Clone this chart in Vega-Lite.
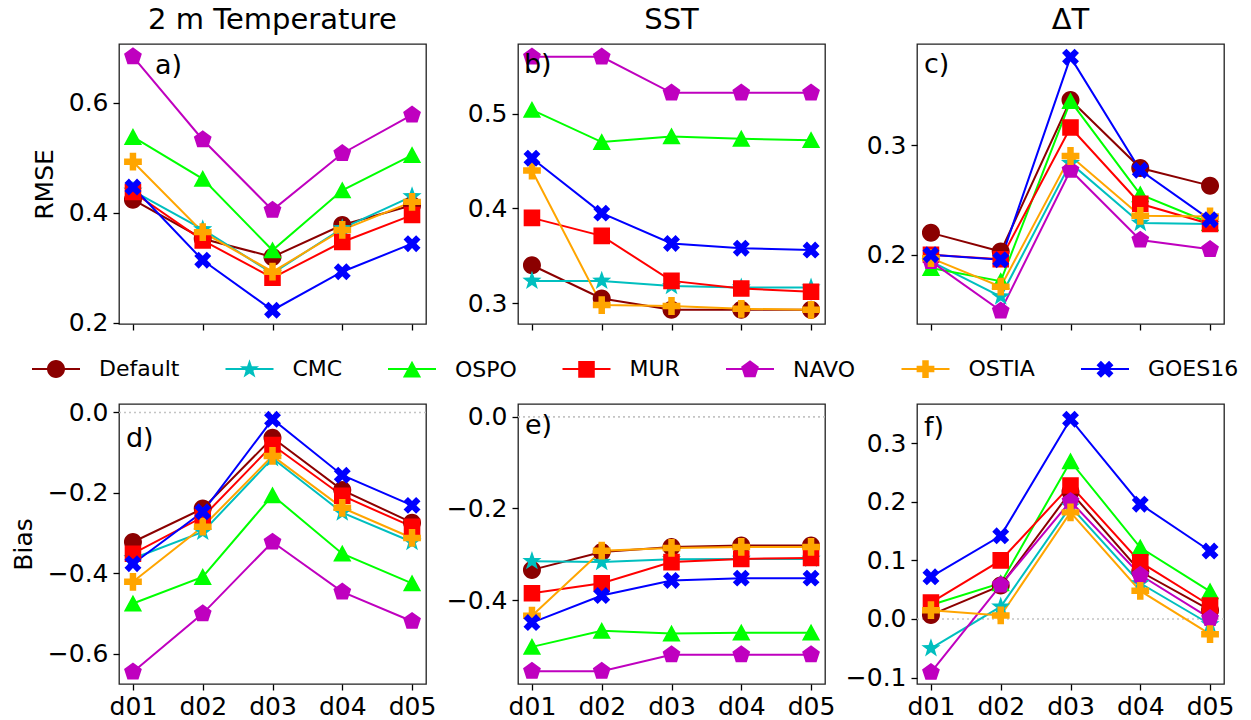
{
  "$schema": "https://vega.github.io/schema/vega-lite/v6.json",
  "background": "white",
  "padding": {"left": 10, "top": 5, "right": 5, "bottom": 0},
  "datasets": {
    "rows": [
      {"var": "T2", "metric": "RMSE", "series": "Default", "lead": "d01", "value": 0.424},
      {"var": "T2", "metric": "RMSE", "series": "Default", "lead": "d02", "value": 0.353},
      {"var": "T2", "metric": "RMSE", "series": "Default", "lead": "d03", "value": 0.320},
      {"var": "T2", "metric": "RMSE", "series": "Default", "lead": "d04", "value": 0.378},
      {"var": "T2", "metric": "RMSE", "series": "Default", "lead": "d05", "value": 0.414},
      {"var": "T2", "metric": "RMSE", "series": "CMC", "lead": "d01", "value": 0.440},
      {"var": "T2", "metric": "RMSE", "series": "CMC", "lead": "d02", "value": 0.370},
      {"var": "T2", "metric": "RMSE", "series": "CMC", "lead": "d03", "value": 0.290},
      {"var": "T2", "metric": "RMSE", "series": "CMC", "lead": "d04", "value": 0.372},
      {"var": "T2", "metric": "RMSE", "series": "CMC", "lead": "d05", "value": 0.430},
      {"var": "T2", "metric": "RMSE", "series": "OSPO", "lead": "d01", "value": 0.538},
      {"var": "T2", "metric": "RMSE", "series": "OSPO", "lead": "d02", "value": 0.462},
      {"var": "T2", "metric": "RMSE", "series": "OSPO", "lead": "d03", "value": 0.332},
      {"var": "T2", "metric": "RMSE", "series": "OSPO", "lead": "d04", "value": 0.441},
      {"var": "T2", "metric": "RMSE", "series": "OSPO", "lead": "d05", "value": 0.505},
      {"var": "T2", "metric": "RMSE", "series": "MUR", "lead": "d01", "value": 0.438},
      {"var": "T2", "metric": "RMSE", "series": "MUR", "lead": "d02", "value": 0.350},
      {"var": "T2", "metric": "RMSE", "series": "MUR", "lead": "d03", "value": 0.282},
      {"var": "T2", "metric": "RMSE", "series": "MUR", "lead": "d04", "value": 0.347},
      {"var": "T2", "metric": "RMSE", "series": "MUR", "lead": "d05", "value": 0.396},
      {"var": "T2", "metric": "RMSE", "series": "NAVO", "lead": "d01", "value": 0.684},
      {"var": "T2", "metric": "RMSE", "series": "NAVO", "lead": "d02", "value": 0.533},
      {"var": "T2", "metric": "RMSE", "series": "NAVO", "lead": "d03", "value": 0.405},
      {"var": "T2", "metric": "RMSE", "series": "NAVO", "lead": "d04", "value": 0.508},
      {"var": "T2", "metric": "RMSE", "series": "NAVO", "lead": "d05", "value": 0.578},
      {"var": "T2", "metric": "RMSE", "series": "OSTIA", "lead": "d01", "value": 0.493},
      {"var": "T2", "metric": "RMSE", "series": "OSTIA", "lead": "d02", "value": 0.365},
      {"var": "T2", "metric": "RMSE", "series": "OSTIA", "lead": "d03", "value": 0.293},
      {"var": "T2", "metric": "RMSE", "series": "OSTIA", "lead": "d04", "value": 0.369},
      {"var": "T2", "metric": "RMSE", "series": "OSTIA", "lead": "d05", "value": 0.420},
      {"var": "T2", "metric": "RMSE", "series": "GOES16", "lead": "d01", "value": 0.447},
      {"var": "T2", "metric": "RMSE", "series": "GOES16", "lead": "d02", "value": 0.314},
      {"var": "T2", "metric": "RMSE", "series": "GOES16", "lead": "d03", "value": 0.223},
      {"var": "T2", "metric": "RMSE", "series": "GOES16", "lead": "d04", "value": 0.293},
      {"var": "T2", "metric": "RMSE", "series": "GOES16", "lead": "d05", "value": 0.344},

      {"var": "SST", "metric": "RMSE", "series": "Default", "lead": "d01", "value": 0.340},
      {"var": "SST", "metric": "RMSE", "series": "Default", "lead": "d02", "value": 0.305},
      {"var": "SST", "metric": "RMSE", "series": "Default", "lead": "d03", "value": 0.293},
      {"var": "SST", "metric": "RMSE", "series": "Default", "lead": "d04", "value": 0.293},
      {"var": "SST", "metric": "RMSE", "series": "Default", "lead": "d05", "value": 0.293},
      {"var": "SST", "metric": "RMSE", "series": "CMC", "lead": "d01", "value": 0.3235},
      {"var": "SST", "metric": "RMSE", "series": "CMC", "lead": "d02", "value": 0.3235},
      {"var": "SST", "metric": "RMSE", "series": "CMC", "lead": "d03", "value": 0.318},
      {"var": "SST", "metric": "RMSE", "series": "CMC", "lead": "d04", "value": 0.3165},
      {"var": "SST", "metric": "RMSE", "series": "CMC", "lead": "d05", "value": 0.3165},
      {"var": "SST", "metric": "RMSE", "series": "OSPO", "lead": "d01", "value": 0.504},
      {"var": "SST", "metric": "RMSE", "series": "OSPO", "lead": "d02", "value": 0.470},
      {"var": "SST", "metric": "RMSE", "series": "OSPO", "lead": "d03", "value": 0.476},
      {"var": "SST", "metric": "RMSE", "series": "OSPO", "lead": "d04", "value": 0.4735},
      {"var": "SST", "metric": "RMSE", "series": "OSPO", "lead": "d05", "value": 0.472},
      {"var": "SST", "metric": "RMSE", "series": "MUR", "lead": "d01", "value": 0.390},
      {"var": "SST", "metric": "RMSE", "series": "MUR", "lead": "d02", "value": 0.371},
      {"var": "SST", "metric": "RMSE", "series": "MUR", "lead": "d03", "value": 0.3235},
      {"var": "SST", "metric": "RMSE", "series": "MUR", "lead": "d04", "value": 0.3155},
      {"var": "SST", "metric": "RMSE", "series": "MUR", "lead": "d05", "value": 0.312},
      {"var": "SST", "metric": "RMSE", "series": "NAVO", "lead": "d01", "value": 0.560},
      {"var": "SST", "metric": "RMSE", "series": "NAVO", "lead": "d02", "value": 0.560},
      {"var": "SST", "metric": "RMSE", "series": "NAVO", "lead": "d03", "value": 0.522},
      {"var": "SST", "metric": "RMSE", "series": "NAVO", "lead": "d04", "value": 0.522},
      {"var": "SST", "metric": "RMSE", "series": "NAVO", "lead": "d05", "value": 0.522},
      {"var": "SST", "metric": "RMSE", "series": "OSTIA", "lead": "d01", "value": 0.440},
      {"var": "SST", "metric": "RMSE", "series": "OSTIA", "lead": "d02", "value": 0.298},
      {"var": "SST", "metric": "RMSE", "series": "OSTIA", "lead": "d03", "value": 0.297},
      {"var": "SST", "metric": "RMSE", "series": "OSTIA", "lead": "d04", "value": 0.294},
      {"var": "SST", "metric": "RMSE", "series": "OSTIA", "lead": "d05", "value": 0.293},
      {"var": "SST", "metric": "RMSE", "series": "GOES16", "lead": "d01", "value": 0.453},
      {"var": "SST", "metric": "RMSE", "series": "GOES16", "lead": "d02", "value": 0.395},
      {"var": "SST", "metric": "RMSE", "series": "GOES16", "lead": "d03", "value": 0.363},
      {"var": "SST", "metric": "RMSE", "series": "GOES16", "lead": "d04", "value": 0.358},
      {"var": "SST", "metric": "RMSE", "series": "GOES16", "lead": "d05", "value": 0.356},

      {"var": "DT", "metric": "RMSE", "series": "Default", "lead": "d01", "value": 0.220},
      {"var": "DT", "metric": "RMSE", "series": "Default", "lead": "d02", "value": 0.203},
      {"var": "DT", "metric": "RMSE", "series": "Default", "lead": "d03", "value": 0.341},
      {"var": "DT", "metric": "RMSE", "series": "Default", "lead": "d04", "value": 0.279},
      {"var": "DT", "metric": "RMSE", "series": "Default", "lead": "d05", "value": 0.263},
      {"var": "DT", "metric": "RMSE", "series": "CMC", "lead": "d01", "value": 0.194},
      {"var": "DT", "metric": "RMSE", "series": "CMC", "lead": "d02", "value": 0.162},
      {"var": "DT", "metric": "RMSE", "series": "CMC", "lead": "d03", "value": 0.2835},
      {"var": "DT", "metric": "RMSE", "series": "CMC", "lead": "d04", "value": 0.229},
      {"var": "DT", "metric": "RMSE", "series": "CMC", "lead": "d05", "value": 0.228},
      {"var": "DT", "metric": "RMSE", "series": "OSPO", "lead": "d01", "value": 0.188},
      {"var": "DT", "metric": "RMSE", "series": "OSPO", "lead": "d02", "value": 0.176},
      {"var": "DT", "metric": "RMSE", "series": "OSPO", "lead": "d03", "value": 0.340},
      {"var": "DT", "metric": "RMSE", "series": "OSPO", "lead": "d04", "value": 0.255},
      {"var": "DT", "metric": "RMSE", "series": "OSPO", "lead": "d05", "value": 0.229},
      {"var": "DT", "metric": "RMSE", "series": "MUR", "lead": "d01", "value": 0.200},
      {"var": "DT", "metric": "RMSE", "series": "MUR", "lead": "d02", "value": 0.196},
      {"var": "DT", "metric": "RMSE", "series": "MUR", "lead": "d03", "value": 0.316},
      {"var": "DT", "metric": "RMSE", "series": "MUR", "lead": "d04", "value": 0.2465},
      {"var": "DT", "metric": "RMSE", "series": "MUR", "lead": "d05", "value": 0.228},
      {"var": "DT", "metric": "RMSE", "series": "NAVO", "lead": "d01", "value": 0.194},
      {"var": "DT", "metric": "RMSE", "series": "NAVO", "lead": "d02", "value": 0.149},
      {"var": "DT", "metric": "RMSE", "series": "NAVO", "lead": "d03", "value": 0.277},
      {"var": "DT", "metric": "RMSE", "series": "NAVO", "lead": "d04", "value": 0.2135},
      {"var": "DT", "metric": "RMSE", "series": "NAVO", "lead": "d05", "value": 0.205},
      {"var": "DT", "metric": "RMSE", "series": "OSTIA", "lead": "d01", "value": 0.197},
      {"var": "DT", "metric": "RMSE", "series": "OSTIA", "lead": "d02", "value": 0.171},
      {"var": "DT", "metric": "RMSE", "series": "OSTIA", "lead": "d03", "value": 0.290},
      {"var": "DT", "metric": "RMSE", "series": "OSTIA", "lead": "d04", "value": 0.2355},
      {"var": "DT", "metric": "RMSE", "series": "OSTIA", "lead": "d05", "value": 0.235},
      {"var": "DT", "metric": "RMSE", "series": "GOES16", "lead": "d01", "value": 0.200},
      {"var": "DT", "metric": "RMSE", "series": "GOES16", "lead": "d02", "value": 0.1955},
      {"var": "DT", "metric": "RMSE", "series": "GOES16", "lead": "d03", "value": 0.380},
      {"var": "DT", "metric": "RMSE", "series": "GOES16", "lead": "d04", "value": 0.277},
      {"var": "DT", "metric": "RMSE", "series": "GOES16", "lead": "d05", "value": 0.232},

      {"var": "T2", "metric": "Bias", "series": "Default", "lead": "d01", "value": -0.322},
      {"var": "T2", "metric": "Bias", "series": "Default", "lead": "d02", "value": -0.239},
      {"var": "T2", "metric": "Bias", "series": "Default", "lead": "d03", "value": -0.063},
      {"var": "T2", "metric": "Bias", "series": "Default", "lead": "d04", "value": -0.193},
      {"var": "T2", "metric": "Bias", "series": "Default", "lead": "d05", "value": -0.274},
      {"var": "T2", "metric": "Bias", "series": "CMC", "lead": "d01", "value": -0.363},
      {"var": "T2", "metric": "Bias", "series": "CMC", "lead": "d02", "value": -0.297},
      {"var": "T2", "metric": "Bias", "series": "CMC", "lead": "d03", "value": -0.114},
      {"var": "T2", "metric": "Bias", "series": "CMC", "lead": "d04", "value": -0.249},
      {"var": "T2", "metric": "Bias", "series": "CMC", "lead": "d05", "value": -0.322},
      {"var": "T2", "metric": "Bias", "series": "OSPO", "lead": "d01", "value": -0.475},
      {"var": "T2", "metric": "Bias", "series": "OSPO", "lead": "d02", "value": -0.409},
      {"var": "T2", "metric": "Bias", "series": "OSPO", "lead": "d03", "value": -0.206},
      {"var": "T2", "metric": "Bias", "series": "OSPO", "lead": "d04", "value": -0.351},
      {"var": "T2", "metric": "Bias", "series": "OSPO", "lead": "d05", "value": -0.425},
      {"var": "T2", "metric": "Bias", "series": "MUR", "lead": "d01", "value": -0.351},
      {"var": "T2", "metric": "Bias", "series": "MUR", "lead": "d02", "value": -0.260},
      {"var": "T2", "metric": "Bias", "series": "MUR", "lead": "d03", "value": -0.081},
      {"var": "T2", "metric": "Bias", "series": "MUR", "lead": "d04", "value": -0.207},
      {"var": "T2", "metric": "Bias", "series": "MUR", "lead": "d05", "value": -0.284},
      {"var": "T2", "metric": "Bias", "series": "NAVO", "lead": "d01", "value": -0.645},
      {"var": "T2", "metric": "Bias", "series": "NAVO", "lead": "d02", "value": -0.500},
      {"var": "T2", "metric": "Bias", "series": "NAVO", "lead": "d03", "value": -0.322},
      {"var": "T2", "metric": "Bias", "series": "NAVO", "lead": "d04", "value": -0.446},
      {"var": "T2", "metric": "Bias", "series": "NAVO", "lead": "d05", "value": -0.519},
      {"var": "T2", "metric": "Bias", "series": "OSTIA", "lead": "d01", "value": -0.421},
      {"var": "T2", "metric": "Bias", "series": "OSTIA", "lead": "d02", "value": -0.284},
      {"var": "T2", "metric": "Bias", "series": "OSTIA", "lead": "d03", "value": -0.108},
      {"var": "T2", "metric": "Bias", "series": "OSTIA", "lead": "d04", "value": -0.237},
      {"var": "T2", "metric": "Bias", "series": "OSTIA", "lead": "d05", "value": -0.312},
      {"var": "T2", "metric": "Bias", "series": "GOES16", "lead": "d01", "value": -0.376},
      {"var": "T2", "metric": "Bias", "series": "GOES16", "lead": "d02", "value": -0.247},
      {"var": "T2", "metric": "Bias", "series": "GOES16", "lead": "d03", "value": -0.017},
      {"var": "T2", "metric": "Bias", "series": "GOES16", "lead": "d04", "value": -0.156},
      {"var": "T2", "metric": "Bias", "series": "GOES16", "lead": "d05", "value": -0.231},

      {"var": "SST", "metric": "Bias", "series": "Default", "lead": "d01", "value": -0.334},
      {"var": "SST", "metric": "Bias", "series": "Default", "lead": "d02", "value": -0.295},
      {"var": "SST", "metric": "Bias", "series": "Default", "lead": "d03", "value": -0.284},
      {"var": "SST", "metric": "Bias", "series": "Default", "lead": "d04", "value": -0.281},
      {"var": "SST", "metric": "Bias", "series": "Default", "lead": "d05", "value": -0.281},
      {"var": "SST", "metric": "Bias", "series": "CMC", "lead": "d01", "value": -0.315},
      {"var": "SST", "metric": "Bias", "series": "CMC", "lead": "d02", "value": -0.317},
      {"var": "SST", "metric": "Bias", "series": "CMC", "lead": "d03", "value": -0.311},
      {"var": "SST", "metric": "Bias", "series": "CMC", "lead": "d04", "value": -0.310},
      {"var": "SST", "metric": "Bias", "series": "CMC", "lead": "d05", "value": -0.310},
      {"var": "SST", "metric": "Bias", "series": "OSPO", "lead": "d01", "value": -0.502},
      {"var": "SST", "metric": "Bias", "series": "OSPO", "lead": "d02", "value": -0.467},
      {"var": "SST", "metric": "Bias", "series": "OSPO", "lead": "d03", "value": -0.473},
      {"var": "SST", "metric": "Bias", "series": "OSPO", "lead": "d04", "value": -0.471},
      {"var": "SST", "metric": "Bias", "series": "OSPO", "lead": "d05", "value": -0.471},
      {"var": "SST", "metric": "Bias", "series": "MUR", "lead": "d01", "value": -0.385},
      {"var": "SST", "metric": "Bias", "series": "MUR", "lead": "d02", "value": -0.363},
      {"var": "SST", "metric": "Bias", "series": "MUR", "lead": "d03", "value": -0.317},
      {"var": "SST", "metric": "Bias", "series": "MUR", "lead": "d04", "value": -0.310},
      {"var": "SST", "metric": "Bias", "series": "MUR", "lead": "d05", "value": -0.308},
      {"var": "SST", "metric": "Bias", "series": "NAVO", "lead": "d01", "value": -0.555},
      {"var": "SST", "metric": "Bias", "series": "NAVO", "lead": "d02", "value": -0.555},
      {"var": "SST", "metric": "Bias", "series": "NAVO", "lead": "d03", "value": -0.519},
      {"var": "SST", "metric": "Bias", "series": "NAVO", "lead": "d04", "value": -0.519},
      {"var": "SST", "metric": "Bias", "series": "NAVO", "lead": "d05", "value": -0.519},
      {"var": "SST", "metric": "Bias", "series": "OSTIA", "lead": "d01", "value": -0.434},
      {"var": "SST", "metric": "Bias", "series": "OSTIA", "lead": "d02", "value": -0.292},
      {"var": "SST", "metric": "Bias", "series": "OSTIA", "lead": "d03", "value": -0.286},
      {"var": "SST", "metric": "Bias", "series": "OSTIA", "lead": "d04", "value": -0.284},
      {"var": "SST", "metric": "Bias", "series": "OSTIA", "lead": "d05", "value": -0.284},
      {"var": "SST", "metric": "Bias", "series": "GOES16", "lead": "d01", "value": -0.449},
      {"var": "SST", "metric": "Bias", "series": "GOES16", "lead": "d02", "value": -0.390},
      {"var": "SST", "metric": "Bias", "series": "GOES16", "lead": "d03", "value": -0.357},
      {"var": "SST", "metric": "Bias", "series": "GOES16", "lead": "d04", "value": -0.352},
      {"var": "SST", "metric": "Bias", "series": "GOES16", "lead": "d05", "value": -0.352},

      {"var": "DT", "metric": "Bias", "series": "Default", "lead": "d01", "value": 0.007},
      {"var": "DT", "metric": "Bias", "series": "Default", "lead": "d02", "value": 0.057},
      {"var": "DT", "metric": "Bias", "series": "Default", "lead": "d03", "value": 0.217},
      {"var": "DT", "metric": "Bias", "series": "Default", "lead": "d04", "value": 0.081},
      {"var": "DT", "metric": "Bias", "series": "Default", "lead": "d05", "value": 0.015},
      {"var": "DT", "metric": "Bias", "series": "CMC", "lead": "d01", "value": -0.050},
      {"var": "DT", "metric": "Bias", "series": "CMC", "lead": "d02", "value": 0.021},
      {"var": "DT", "metric": "Bias", "series": "CMC", "lead": "d03", "value": 0.192},
      {"var": "DT", "metric": "Bias", "series": "CMC", "lead": "d04", "value": 0.061},
      {"var": "DT", "metric": "Bias", "series": "CMC", "lead": "d05", "value": -0.009},
      {"var": "DT", "metric": "Bias", "series": "OSPO", "lead": "d01", "value": 0.024},
      {"var": "DT", "metric": "Bias", "series": "OSPO", "lead": "d02", "value": 0.061},
      {"var": "DT", "metric": "Bias", "series": "OSPO", "lead": "d03", "value": 0.269},
      {"var": "DT", "metric": "Bias", "series": "OSPO", "lead": "d04", "value": 0.122},
      {"var": "DT", "metric": "Bias", "series": "OSPO", "lead": "d05", "value": 0.047},
      {"var": "DT", "metric": "Bias", "series": "MUR", "lead": "d01", "value": 0.028},
      {"var": "DT", "metric": "Bias", "series": "MUR", "lead": "d02", "value": 0.100},
      {"var": "DT", "metric": "Bias", "series": "MUR", "lead": "d03", "value": 0.228},
      {"var": "DT", "metric": "Bias", "series": "MUR", "lead": "d04", "value": 0.097},
      {"var": "DT", "metric": "Bias", "series": "MUR", "lead": "d05", "value": 0.023},
      {"var": "DT", "metric": "Bias", "series": "NAVO", "lead": "d01", "value": -0.091},
      {"var": "DT", "metric": "Bias", "series": "NAVO", "lead": "d02", "value": 0.058},
      {"var": "DT", "metric": "Bias", "series": "NAVO", "lead": "d03", "value": 0.201},
      {"var": "DT", "metric": "Bias", "series": "NAVO", "lead": "d04", "value": 0.075},
      {"var": "DT", "metric": "Bias", "series": "NAVO", "lead": "d05", "value": 0.001},
      {"var": "DT", "metric": "Bias", "series": "OSTIA", "lead": "d01", "value": 0.015},
      {"var": "DT", "metric": "Bias", "series": "OSTIA", "lead": "d02", "value": 0.006},
      {"var": "DT", "metric": "Bias", "series": "OSTIA", "lead": "d03", "value": 0.182},
      {"var": "DT", "metric": "Bias", "series": "OSTIA", "lead": "d04", "value": 0.048},
      {"var": "DT", "metric": "Bias", "series": "OSTIA", "lead": "d05", "value": -0.026},
      {"var": "DT", "metric": "Bias", "series": "GOES16", "lead": "d01", "value": 0.072},
      {"var": "DT", "metric": "Bias", "series": "GOES16", "lead": "d02", "value": 0.142},
      {"var": "DT", "metric": "Bias", "series": "GOES16", "lead": "d03", "value": 0.341},
      {"var": "DT", "metric": "Bias", "series": "GOES16", "lead": "d04", "value": 0.196},
      {"var": "DT", "metric": "Bias", "series": "GOES16", "lead": "d05", "value": 0.116}
    ]
  },
  "data": {"name": "rows"},
  "columns": 3,
  "spacing": {"row": 80, "column": 92},
  "bounds": "flush",
  "concat": [
    {
      "width": 307, "height": 280,
      "title": {"text": "2 m Temperature"},
      "layer": [
        {
          "transform": [{"filter": "datum.var == 'T2' && datum.metric == 'RMSE'"}],
          "mark": {"type": "line", "strokeWidth": 2},
          "encoding": {
            "x": {"field": "lead", "type": "ordinal", "scale": {"type": "point", "padding": 0.2}, "axis": {"labels": false, "title": null}},
            "y": {"field": "value", "type": "quantitative", "scale": {"domain": [0.198, 0.707], "nice": false, "zero": false}, "axis": {"values": [0.2, 0.4, 0.6], "format": ".1f", "title": "RMSE", "titlePadding": 11}},
            "stroke": {"field": "series", "type": "nominal", "sort": null, "scale": {"range": ["#8b0000", "#00bfbf", "#00ff00", "#ff0000", "#bf00bf", "#ffa500", "#0000ff"]}, "legend": {"orient": "none", "legendX": -88, "legendY": 300, "direction": "horizontal", "title": null, "symbolType": "stroke", "symbolSize": 2304, "symbolStrokeWidth": 2, "labelOffset": 18, "columnPadding": 41.5, "labelOpacity": 0, "zindex": 0}}
          }
        },
        {
          "transform": [{"filter": "datum.var == 'T2' && datum.metric == 'RMSE'"}],
          "mark": {"type": "point", "filled": true, "opacity": 1, "size": 2304, "strokeWidth": 0},
          "encoding": {
            "x": {"field": "lead", "type": "ordinal"},
            "y": {"field": "value", "type": "quantitative"},
            "fill": {"field": "series", "type": "nominal", "scale": {"domain": ["Default", "CMC", "OSPO", "MUR", "NAVO", "OSTIA", "GOES16"], "range": ["#8b0000", "#00bfbf", "#00ff00", "#ff0000", "#bf00bf", "#ffa500", "#0000ff"]}, "legend": {"orient": "none", "legendX": -88, "legendY": 300, "direction": "horizontal", "title": null, "symbolSize": 2304, "symbolStrokeWidth": 2, "symbolStrokeColor": "transparent", "labelOffset": 18, "columnPadding": 41.5, "zindex": 1}},
            "shape": {"field": "series", "type": "nominal", "scale": {"domain": ["Default", "CMC", "OSPO", "MUR", "NAVO", "OSTIA", "GOES16"], "range": ["M0.375,0A0.375,0.375,0,1,1,-0.375,0A0.375,0.375,0,1,1,0.375,0ZM-1,0L1,0", "M0,-0.42L0.099,-0.136L0.399,-0.13L0.16,0.052L0.247,0.34L0,0.168L-0.247,0.34L-0.16,0.052L-0.399,-0.13L-0.099,-0.136ZM-1,0L1,0", "M0,-0.37L0.38,0.33L-0.38,0.33ZM-1,0L1,0", "M-0.345,-0.345H0.345V0.345H-0.345ZM-1,0L1,0", "M0,-0.39L0.371,-0.121L0.229,0.316L-0.229,0.316L-0.371,-0.121ZM-1,0L1,0", "M-0.135,-0.37H0.135V-0.135H0.37V0.135H0.135V0.37H-0.135V0.135H-0.37V-0.135H-0.135ZM-1,0L1,0", "M0.17,-0.353L0.353,-0.17L0.183,0L0.353,0.17L0.17,0.353L0,0.183L-0.17,0.353L-0.353,0.17L-0.183,0L-0.353,-0.17L-0.17,-0.353L0,-0.183ZM-1,0L1,0"]}, "legend": {"orient": "none", "legendX": -88, "legendY": 300, "direction": "horizontal", "title": null, "symbolSize": 2304, "symbolStrokeWidth": 2, "symbolStrokeColor": "transparent", "labelOffset": 18, "columnPadding": 41.5, "zindex": 1}}
          }
        },
        {
          "data": {"values": [{"label": "a)"}]},
          "mark": {"type": "text", "align": "left", "baseline": "alphabetic", "fontSize": 27, "dx": 22},
          "encoding": {"x": {"datum": "d01", "type": "ordinal"}, "y": {"datum": 0.652, "type": "quantitative"}, "text": {"field": "label"}}
        }
      ]
    },
    {
      "width": 307, "height": 280,
      "title": {"text": "SST"},
      "layer": [
        {
          "transform": [{"filter": "datum.var == 'SST' && datum.metric == 'RMSE'"}],
          "mark": {"type": "line", "strokeWidth": 2},
          "encoding": {
            "x": {"field": "lead", "type": "ordinal", "scale": {"type": "point", "padding": 0.2}, "axis": {"labels": false, "title": null}},
            "y": {"field": "value", "type": "quantitative", "scale": {"domain": [0.278, 0.5735], "nice": false, "zero": false}, "axis": {"values": [0.3, 0.4, 0.5], "format": ".1f", "title": null}},
            "stroke": {"field": "series", "type": "nominal", "sort": null}
          }
        },
        {
          "transform": [{"filter": "datum.var == 'SST' && datum.metric == 'RMSE'"}],
          "mark": {"type": "point", "filled": true, "opacity": 1, "size": 2304, "strokeWidth": 0},
          "encoding": {
            "x": {"field": "lead", "type": "ordinal"},
            "y": {"field": "value", "type": "quantitative"},
            "fill": {"field": "series", "type": "nominal"},
            "shape": {"field": "series", "type": "nominal"}
          }
        },
        {
          "data": {"values": [{"label": "b)"}]},
          "mark": {"type": "text", "align": "left", "baseline": "alphabetic", "fontSize": 27, "dx": -8},
          "encoding": {"x": {"datum": "d01", "type": "ordinal"}, "y": {"datum": 0.5426, "type": "quantitative"}, "text": {"field": "label"}}
        }
      ]
    },
    {
      "width": 307, "height": 280,
      "title": {"text": "ΔT"},
      "layer": [
        {
          "transform": [{"filter": "datum.var == 'DT' && datum.metric == 'RMSE'"}],
          "mark": {"type": "line", "strokeWidth": 2},
          "encoding": {
            "x": {"field": "lead", "type": "ordinal", "scale": {"type": "point", "padding": 0.2}, "axis": {"labels": false, "title": null}},
            "y": {"field": "value", "type": "quantitative", "scale": {"domain": [0.137, 0.392], "nice": false, "zero": false}, "axis": {"values": [0.2, 0.3], "format": ".1f", "title": null}},
            "stroke": {"field": "series", "type": "nominal", "sort": null}
          }
        },
        {
          "transform": [{"filter": "datum.var == 'DT' && datum.metric == 'RMSE'"}],
          "mark": {"type": "point", "filled": true, "opacity": 1, "size": 2304, "strokeWidth": 0},
          "encoding": {
            "x": {"field": "lead", "type": "ordinal"},
            "y": {"field": "value", "type": "quantitative"},
            "fill": {"field": "series", "type": "nominal"},
            "shape": {"field": "series", "type": "nominal"}
          }
        },
        {
          "data": {"values": [{"label": "c)"}]},
          "mark": {"type": "text", "align": "left", "baseline": "alphabetic", "fontSize": 27, "dx": -7},
          "encoding": {"x": {"datum": "d01", "type": "ordinal"}, "y": {"datum": 0.3656, "type": "quantitative"}, "text": {"field": "label"}}
        }
      ]
    },
    {
      "width": 307, "height": 280,
      "layer": [
        {
          "data": {"values": [{"level": 0}]},
          "mark": {"type": "rule", "color": "#c4c4c4", "strokeDash": [2, 3], "strokeWidth": 1.6},
          "encoding": {"y": {"field": "level", "type": "quantitative"}}
        },
        {
          "transform": [{"filter": "datum.var == 'T2' && datum.metric == 'Bias'"}],
          "mark": {"type": "line", "strokeWidth": 2},
          "encoding": {
            "x": {"field": "lead", "type": "ordinal", "scale": {"type": "point", "padding": 0.2}, "axis": {"title": null}},
            "y": {"field": "value", "type": "quantitative", "scale": {"domain": [-0.675, 0.021], "nice": false, "zero": false}, "axis": {"values": [-0.6, -0.4, -0.2, 0.0], "format": ".1f", "title": "Bias", "titlePadding": 11}},
            "stroke": {"field": "series", "type": "nominal", "sort": null}
          }
        },
        {
          "transform": [{"filter": "datum.var == 'T2' && datum.metric == 'Bias'"}],
          "mark": {"type": "point", "filled": true, "opacity": 1, "size": 2304, "strokeWidth": 0},
          "encoding": {
            "x": {"field": "lead", "type": "ordinal"},
            "y": {"field": "value", "type": "quantitative"},
            "fill": {"field": "series", "type": "nominal"},
            "shape": {"field": "series", "type": "nominal"}
          }
        },
        {
          "data": {"values": [{"label": "d)"}]},
          "mark": {"type": "text", "align": "left", "baseline": "alphabetic", "fontSize": 27, "dx": -7},
          "encoding": {"x": {"datum": "d01", "type": "ordinal"}, "y": {"datum": -0.0856, "type": "quantitative"}, "text": {"field": "label"}}
        }
      ]
    },
    {
      "width": 307, "height": 280,
      "layer": [
        {
          "data": {"values": [{"level": 0}]},
          "mark": {"type": "rule", "color": "#c4c4c4", "strokeDash": [2, 3], "strokeWidth": 1.6},
          "encoding": {"y": {"field": "level", "type": "quantitative"}}
        },
        {
          "transform": [{"filter": "datum.var == 'SST' && datum.metric == 'Bias'"}],
          "mark": {"type": "line", "strokeWidth": 2},
          "encoding": {
            "x": {"field": "lead", "type": "ordinal", "scale": {"type": "point", "padding": 0.2}, "axis": {"title": null}},
            "y": {"field": "value", "type": "quantitative", "scale": {"domain": [-0.583, 0.028], "nice": false, "zero": false}, "axis": {"values": [-0.4, -0.2, 0.0], "format": ".1f", "title": null}},
            "stroke": {"field": "series", "type": "nominal", "sort": null}
          }
        },
        {
          "transform": [{"filter": "datum.var == 'SST' && datum.metric == 'Bias'"}],
          "mark": {"type": "point", "filled": true, "opacity": 1, "size": 2304, "strokeWidth": 0},
          "encoding": {
            "x": {"field": "lead", "type": "ordinal"},
            "y": {"field": "value", "type": "quantitative"},
            "fill": {"field": "series", "type": "nominal"},
            "shape": {"field": "series", "type": "nominal"}
          }
        },
        {
          "data": {"values": [{"label": "e)"}]},
          "mark": {"type": "text", "align": "left", "baseline": "alphabetic", "fontSize": 27, "dx": -7},
          "encoding": {"x": {"datum": "d01", "type": "ordinal"}, "y": {"datum": -0.0367, "type": "quantitative"}, "text": {"field": "label"}}
        }
      ]
    },
    {
      "width": 307, "height": 280,
      "layer": [
        {
          "data": {"values": [{"level": 0}]},
          "mark": {"type": "rule", "color": "#c4c4c4", "strokeDash": [2, 3], "strokeWidth": 1.6},
          "encoding": {"y": {"field": "level", "type": "quantitative"}}
        },
        {
          "transform": [{"filter": "datum.var == 'DT' && datum.metric == 'Bias'"}],
          "mark": {"type": "line", "strokeWidth": 2},
          "encoding": {
            "x": {"field": "lead", "type": "ordinal", "scale": {"type": "point", "padding": 0.2}, "axis": {"title": null}},
            "y": {"field": "value", "type": "quantitative", "scale": {"domain": [-0.111, 0.367], "nice": false, "zero": false}, "axis": {"values": [-0.1, 0.0, 0.1, 0.2, 0.3], "format": ".1f", "title": null}},
            "stroke": {"field": "series", "type": "nominal", "sort": null}
          }
        },
        {
          "transform": [{"filter": "datum.var == 'DT' && datum.metric == 'Bias'"}],
          "mark": {"type": "point", "filled": true, "opacity": 1, "size": 2304, "strokeWidth": 0},
          "encoding": {
            "x": {"field": "lead", "type": "ordinal"},
            "y": {"field": "value", "type": "quantitative"},
            "fill": {"field": "series", "type": "nominal"},
            "shape": {"field": "series", "type": "nominal"}
          }
        },
        {
          "data": {"values": [{"label": "f)"}]},
          "mark": {"type": "text", "align": "left", "baseline": "alphabetic", "fontSize": 27, "dx": -7},
          "encoding": {"x": {"datum": "d01", "type": "ordinal"}, "y": {"datum": 0.313, "type": "quantitative"}, "text": {"field": "label"}}
        }
      ]
    }
  ],
  "resolve": {
    "scale": {"x": "independent", "y": "independent", "stroke": "shared", "fill": "shared", "shape": "shared"},
    "axis": {"x": "independent", "y": "independent"},
    "legend": {"stroke": "shared", "fill": "shared", "shape": "shared"}
  },
  "config": {
    "font": "DejaVu Sans",
    "view": {"stroke": "#222222", "strokeWidth": 1.3},
    "axis": {"grid": false, "domain": false, "labelFont": "DejaVu Sans", "labelFontSize": 25, "labelColor": "#000000", "tickColor": "#000000", "tickSize": 6, "tickWidth": 1.3, "labelPadding": 5, "titleFont": "DejaVu Sans", "titleFontSize": 25, "titleFontWeight": "normal", "titleColor": "#000000"},
    "axisX": {"labelAngle": 0, "labelPadding": 4},
    "title": {"font": "DejaVu Sans", "fontSize": 29, "fontWeight": "normal", "color": "#000000", "offset": 9, "baseline": "alphabetic", "anchor": "middle"},
    "legend": {"labelFont": "DejaVu Sans", "labelFontSize": 22, "labelColor": "#000000", "padding": 0},
    "text": {"font": "DejaVu Sans", "color": "#000000"}
  }
}
